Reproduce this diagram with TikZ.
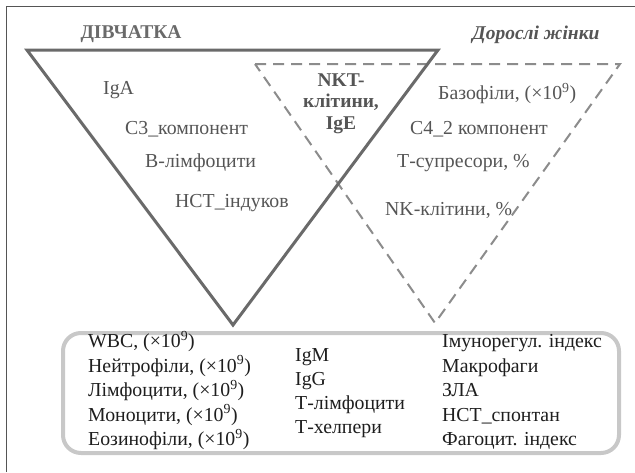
\documentclass[tikz,border=0pt]{standalone}
\usepackage{fontspec}
\setmainfont{Liberation Serif}
\definecolor{framecol}{HTML}{555555}
\definecolor{solidcol}{HTML}{6A6A6A}
\definecolor{dashcol}{HTML}{8C8C8C}
\definecolor{boxcol}{HTML}{C8C8C8}
\definecolor{trtext}{HTML}{555555}
\definecolor{bxtext}{HTML}{1E1E1E}
\begin{document}
\begin{tikzpicture}[x=1pt,y=-1pt,
  lbl/.style={inner sep=0pt, anchor=west, font=\fontsize{19.8}{23}\selectfont, text height=14pt, text depth=4.6pt},
  trlbl/.style={lbl, text=trtext},
  bxlbl/.style={lbl, text=bxtext},
  nkt/.style={inner sep=0pt, anchor=center, font=\fontsize{19.5}{23}\selectfont\bfseries, text=trtext, text height=14pt, text depth=4.6pt}]
\useasboundingbox (0,0) rectangle (635,472);
\fill[white] (0,0) rectangle (635,472);
% frame (left and top only)
\draw[framecol, line width=1.4pt] (6.5,472) -- (6.5,6.5) -- (635,6.5);
% triangles
\draw[dashcol, line width=2pt, dash pattern=on 11pt off 7pt] (255,64) -- (620,64) -- (435,323) -- cycle;
\draw[solidcol, line width=3pt, line join=miter] (27,50) -- (438,50) -- (233,325) -- cycle;
% bottom box
\draw[boxcol, line width=4pt, rounded corners=18pt] (63,333) rectangle (619,453);
% titles
\node[inner sep=0pt, font=\fontsize{19.5}{23}\selectfont\bfseries, text=solidcol] (girls) at (131,34) {ДІВЧАТКА};
\node[inner sep=0pt, font=\fontsize{19.5}{23}\selectfont\bfseries\itshape, text=framecol] (women) at (536,35) {Дорослі жінки};
% left triangle texts
\node[trlbl] (iga) at (103,90) {IgA};
\node[trlbl] (c3) at (125,130) {С3\_компонент};
\node[trlbl] (blym) at (145,163) {В-лімфоцити};
\node[trlbl] (nstind) at (175,203) {НСТ\_індуков};
% overlap
\node[nkt] (nkt1) at (341,82) {NKT-};
\node[nkt] (nkt2) at (341,103) {клітини,};
\node[nkt] (nkt3) at (341,125) {IgE};
% right triangle texts
\node[trlbl] (baso) at (438,95) {Базофіли, (×10\textsuperscript{9})};
\node[trlbl] (c4) at (410,130) {С4\_2 компонент};
\node[trlbl] (tsup) at (397,163) {Т-супресори, \%};
\node[trlbl] (nk) at (385,211) {NK-клітини, \%};
% box: left column
\node[bxlbl] (wbc) at (88,343) {WBC, (×10\textsuperscript{9})};
\node[bxlbl] (neut) at (88,367.5) {Нейтрофіли, (×10\textsuperscript{9})};
\node[bxlbl] (lymph) at (88,392) {Лімфоцити, (×10\textsuperscript{9})};
\node[bxlbl] (mono) at (88,416.5) {Моноцити, (×10\textsuperscript{9})};
\node[bxlbl] (eos) at (88,441) {Еозинофіли, (×10\textsuperscript{9})};
% box: middle column
\node[bxlbl] (igm) at (295,357) {IgM};
\node[bxlbl] (igg) at (295,381) {IgG};
\node[bxlbl] (tlym) at (295,405) {Т-лімфоцити};
\node[bxlbl] (thel) at (295,429) {Т-хелпери};
% box: right column
\node[bxlbl] (imreg) at (442,343) {Імунорегул. індекс};
\node[bxlbl] (macro) at (442,367.5) {Макрофаги};
\node[bxlbl] (zla) at (442,392) {ЗЛА};
\node[bxlbl] (nstsp) at (442,416.5) {НСТ\_спонтан};
\node[bxlbl] (phag) at (442,441) {Фагоцит. індекс};
\end{tikzpicture}
\end{document}
